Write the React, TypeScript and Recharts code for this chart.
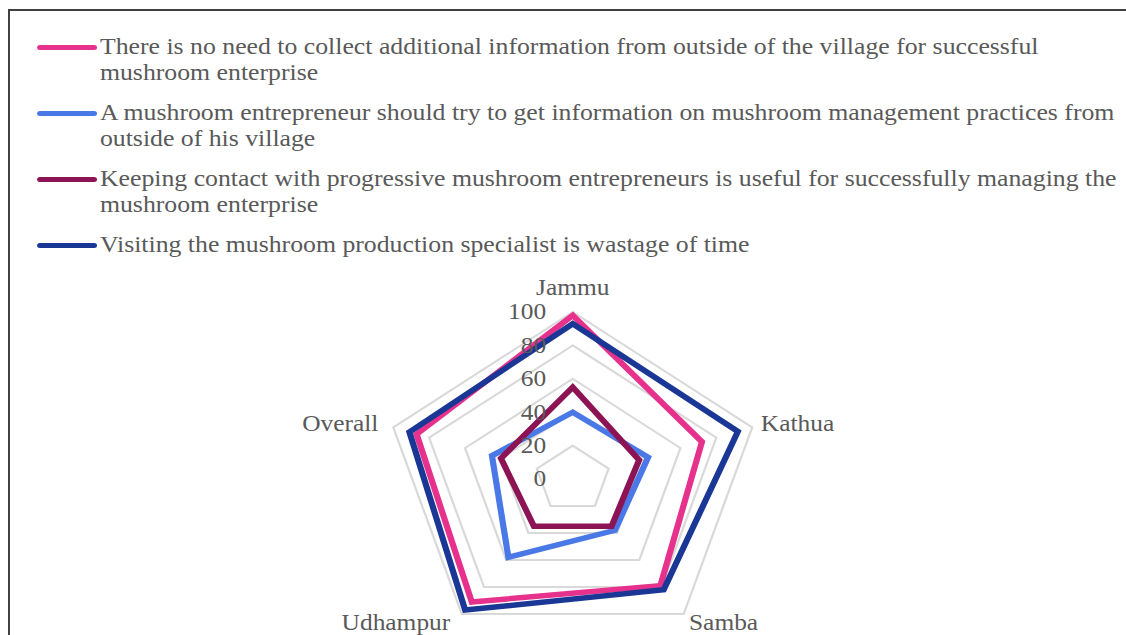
import React from 'react';
import { RadarChart, Radar, PolarGrid, PolarAngleAxis, PolarRadiusAxis } from 'recharts';

const categories = ['Jammu', 'Kathua', 'Samba', 'Udhampur', 'Overall'];
const noNeedOutsideInfo = [98, 72, 79, 91, 87];
const getInfoOutsideVillage = [40, 42, 38, 58, 45];
const keepContactProgressive = [55, 37, 35, 35, 40];
const specialistWastage = [93, 92, 82, 97, 91];
const radiusTicks = [0, 20, 40, 60, 80, 100];

const seriesNames = [
  'There is no need to collect additional information from outside of the village for successful\nmushroom enterprise',
  'A mushroom entrepreneur should try to get information on mushroom management practices from\noutside of his village',
  'Keeping contact with progressive mushroom entrepreneurs is useful for successfully managing the\nmushroom enterprise',
  'Visiting the mushroom production specialist is wastage of time',
];
const seriesKeys = ['s1', 's2', 's3', 's4'];
const seriesValues = [noNeedOutsideInfo, getInfoOutsideVillage, keepContactProgressive, specialistWastage];
const seriesColors = ['#E6328C', '#4A78E6', '#8C1455', '#1A3796'];

const data = categories.map((c, i) => {
  const row: Record<string, any> = { category: c };
  seriesKeys.forEach((k, j) => {
    row[k] = seriesValues[j][i];
  });
  return row;
});

const FONT = '"Liberation Serif", "Times New Roman", serif';
const TEXT_COLOR = '#595959';
const SX = 1.13;
const CX = 498;
const CY = 468;

const AngleTick = (props: any) => {
  const { x, y, payload, textAnchor } = props;
  let dy = 0;
  let dx = 0;
  if (y < CY - 100) dy = -9;
  else if (y > CY + 50) dy = 9.5;
  else dy = 6;
  if (textAnchor === 'end') dx = -5.5;
  return (
    <text
      x={x}
      y={y}
      dx={dx}
      dy={dy}
      textAnchor={textAnchor}
      fill={TEXT_COLOR}
      fontSize={22.5}
      fontFamily={FONT}
    >
      {payload.value}
    </text>
  );
};

const RadiusTick = (props: any) => {
  const { x, y, payload } = props;
  return (
    <text
      x={x - 23.5}
      y={y}
      textAnchor="end"
      dominantBaseline="central"
      fill={TEXT_COLOR}
      fontSize={22.5}
      fontFamily={FONT}
    >
      {payload.value}
    </text>
  );
};

export default function App() {
  return (
    <div
      style={{
        position: 'absolute',
        left: 8,
        top: 9,
        width: 1118,
        height: 626,
        boxSizing: 'border-box',
        borderTop: '2px solid #404040',
        borderLeft: '2px solid #404040',
        overflow: 'hidden',
        background: '#ffffff',
      }}
    >
      <div
        style={{
          position: 'absolute',
          left: 0,
          top: 0,
          width: 988,
          height: 624,
          transform: `scaleX(${SX})`,
          transformOrigin: '0 0',
        }}
      >
        <div style={{ position: 'absolute', left: 0, top: 23, fontFamily: FONT, fontSize: 22.8, color: TEXT_COLOR }}>
          {seriesNames.map((name, i) => (
            <div key={i} style={{ position: 'relative', height: 52, marginBottom: 14 }}>
              <div
                style={{
                  position: 'absolute',
                  left: 24,
                  top: 10.5,
                  width: 53,
                  height: 5,
                  borderRadius: 3,
                  background: seriesColors[i],
                }}
              />
              <div
                style={{
                  position: 'absolute',
                  left: 79.6,
                  top: 0,
                  lineHeight: '26px',
                  whiteSpace: 'pre',
                }}
              >
                {name}
              </div>
            </div>
          ))}
        </div>
        <div style={{ position: 'absolute', left: 0, top: 0 }}>
          <RadarChart
            width={988}
            height={624}
            data={data}
            cx={CX}
            cy={CY}
            outerRadius={167}
            margin={{ top: 0, right: 0, bottom: 0, left: 0 }}
          >
            <PolarGrid gridType="polygon" radialLines={false} stroke="#d9d9d9" strokeWidth={2} />
            <PolarAngleAxis dataKey="category" tick={<AngleTick />} tickLine={false} axisLine={false} />
            <PolarRadiusAxis
              angle={90}
              domain={[0, 100]}
              ticks={radiusTicks as any}
              tickCount={6}
              tick={<RadiusTick />}
              axisLine={false}
              tickLine={false}
            />
            {seriesKeys.map((k, i) => (
              <Radar
                key={k}
                name={seriesNames[i]}
                dataKey={k}
                stroke={seriesColors[i]}
                strokeWidth={5.5}
                fill="none"
                fillOpacity={0}
                dot={false}
                isAnimationActive={false}
              />
            ))}
          </RadarChart>
        </div>
      </div>
    </div>
  );
}
